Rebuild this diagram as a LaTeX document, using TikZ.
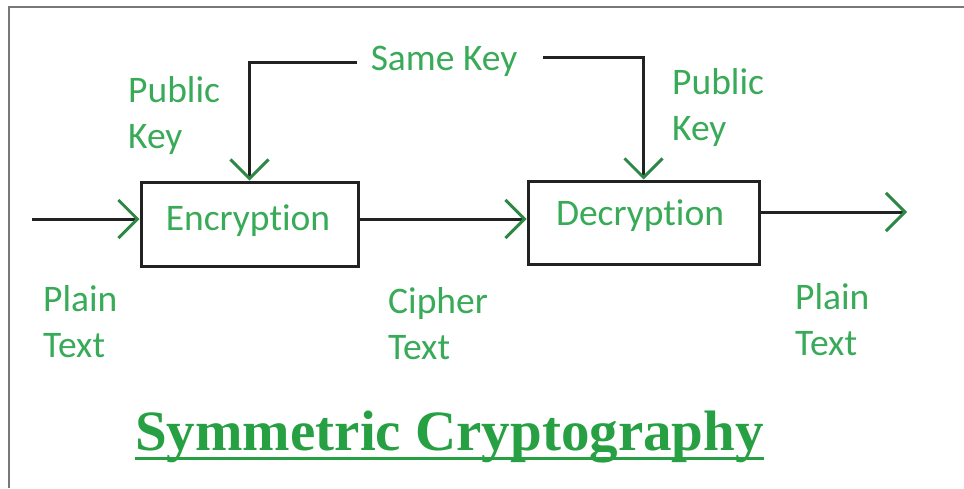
\documentclass[tikz,border=0pt]{standalone}
\usepackage{fontspec}
\setmainfont{Carlito}[Ligatures=NoCommon]
\newfontfamily\titlefont{Liberation Serif}
\usetikzlibrary{arrows.meta}
\definecolor{labelgreen}{RGB}{56,170,88}
\definecolor{titlegreen}{RGB}{38,160,66}
\definecolor{wire}{RGB}{34,34,34}
\definecolor{frame}{RGB}{120,120,120}
\tikzset{
  lbl/.style={text=labelgreen, font=\fontsize{37.5}{46}\selectfont, inner sep=0pt, align=left},
  blockbox/.style={draw=wire, line width=3pt, fill=white, inner sep=0pt},
  wireline/.style={draw=wire, line width=3pt},
  flow/.style={wireline, -{Straight Barb[length=19pt, width=38pt, line width=3pt, color=labelgreen!80!black]}},
}
\begin{document}
\begin{tikzpicture}[x=1pt, y=-1pt]
\useasboundingbox (0,0) rectangle (964,488);
% frame
\draw[frame, line width=2pt] (9,488) -- (9,7) -- (964,7);

% blocks
\node[blockbox, minimum width=217pt, minimum height=84pt] (enc) at (249.5,224) {};
\node[lbl, anchor=base] (enctext) at (248,230) {Encryption};
\node[blockbox, minimum width=231pt, minimum height=83pt] (dec) at (643.5,222.5) {};
\node[lbl, anchor=base] (dectext) at (640,225) {Decryption};

% key
\node[lbl, anchor=base] (samekey) at (444,70) {Same Key};
\coordinate (kl) at (357,62);
\coordinate (kr) at (543,57);
\draw[flow] (kl) -| (enc.north);
\draw[flow] (kr) -| (dec.north);

% data path
\coordinate (pin) at (32,219);
\coordinate (mid) at (0,219);
\coordinate (pout) at (907,212);
\draw[flow] (pin) -- (pin -| enc.west);
\draw[flow] (mid -| enc.east) -- (mid -| dec.west);
\draw[flow] (pout -| dec.east) -- (pout);

% two-line labels, placed by the baseline of their last line
\node[lbl, anchor=base west] (pkl) at (128,148) {Public\\Key};
\node[lbl, anchor=base west] (pkr) at (672,140) {Public\\Key};
\node[lbl, anchor=base west] (ptl) at (43,357) {Plain\\Text};
\node[lbl, anchor=base west] (ct) at (388,359) {Cipher\\Text};
\node[lbl, anchor=base west] (ptr) at (795,355) {Plain\\Text};

% title
\node[text=titlegreen, font=\titlefont\bfseries\fontsize{57}{60}\selectfont, inner sep=0pt, anchor=base] (title) at (449.5,450) {Symmetric Cryptography};
\draw[titlegreen, line width=3pt] ([yshift=-8pt]title.base west) -- ([yshift=-8pt]title.base east);
\end{tikzpicture}
\end{document}
